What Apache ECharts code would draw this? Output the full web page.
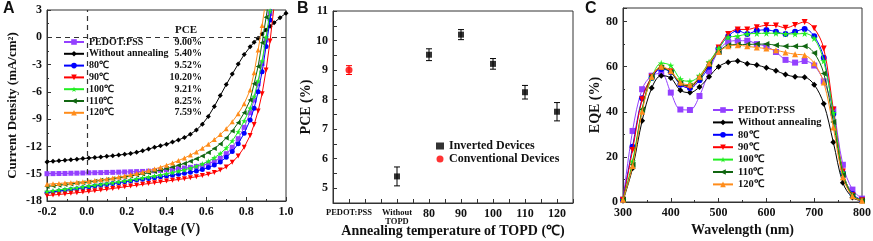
<!DOCTYPE html>
<html>
<head>
<meta charset="utf-8">
<script src="https://cdn.jsdelivr.net/npm/echarts/dist/echarts.min.js"></script>
<style>
html, body { margin: 0; padding: 0; background: #fff; }
#chart { width: 873px; height: 241px; }
</style>
</head>
<body>
<div id="chart"></div>
<script>
// ---- panel A : J-V curves ----
var voltage = [-0.20, -0.17, -0.14, -0.11, -0.08, -0.05, -0.02, 0.01, 0.04, 0.07,
    0.10, 0.13, 0.16, 0.19, 0.22, 0.25, 0.28, 0.31, 0.34, 0.37,
    0.40, 0.43, 0.46, 0.49, 0.52, 0.55, 0.58, 0.61, 0.64, 0.67,
    0.70, 0.73, 0.76, 0.79, 0.82, 0.84, 0.86, 0.88, 0.90, 0.92,
    0.94, 0.97, 1.00];

var jPedot = [-15.00, -14.99, -14.98, -14.97, -14.95, -14.94, -14.92, -14.90, -14.89, -14.88,
    -14.86, -14.85, -14.83, -14.81, -14.79, -14.77, -14.75, -14.72, -14.68, -14.63,
    -14.58, -14.52, -14.45, -14.38, -14.30, -14.20, -14.08, -13.90, -13.65, -13.30,
    -12.80, -12.10, -11.15, -9.90, -8.30, -6.90, -5.10, -2.90, -0.30, 2.60,
    5.80, null, null];
var jNoAnneal = [-13.70, -13.64, -13.58, -13.52, -13.46, -13.40, -13.34, -13.28, -13.22, -13.16,
    -13.09, -13.02, -12.95, -12.87, -12.78, -12.65, -12.48, -12.28, -12.10, -11.93,
    -11.75, -11.52, -11.28, -11.02, -10.65, -10.20, -9.55, -8.70, -7.60, -6.40,
    -5.20, -4.05, -2.95, -1.90, -1.05, -0.55, -0.10, 0.35, 0.80, 1.20,
    1.60, 2.15, 2.65];
var j80 = [-17.10, -17.00, -16.90, -16.82, -16.74, -16.64, -16.55, -16.45, -16.36, -16.27,
    -16.18, -16.08, -15.98, -15.88, -15.79, -15.70, -15.61, -15.52, -15.43, -15.34,
    -15.25, -15.16, -15.06, -14.96, -14.84, -14.70, -14.53, -14.32, -14.05, -13.70,
    -13.20, -12.55, -11.70, -10.55, -9.10, -7.80, -6.00, -3.80, -1.00, 1.90,
    5.00, null, null];
var j90 = [-17.40, -17.34, -17.28, -17.22, -17.15, -17.09, -17.02, -16.95, -16.87, -16.79,
    -16.71, -16.62, -16.53, -16.44, -16.35, -16.26, -16.17, -16.08, -15.99, -15.90,
    -15.81, -15.72, -15.63, -15.54, -15.44, -15.33, -15.20, -15.05, -14.86, -14.60,
    -14.25, -13.75, -13.05, -12.10, -10.80, -9.60, -8.10, -6.20, -3.60, -0.40,
    3.40, null, null];
var j100 = [-16.95, -16.87, -16.78, -16.70, -16.62, -16.53, -16.44, -16.35, -16.26, -16.17,
    -16.08, -15.98, -15.88, -15.78, -15.68, -15.57, -15.46, -15.35, -15.24, -15.12,
    -15.00, -14.87, -14.73, -14.57, -14.39, -14.18, -13.93, -13.62, -13.25, -12.78,
    -12.18, -11.40, -10.40, -9.20, -7.80, -6.50, -4.80, -2.60, 0.00, 2.90,
    6.00, null, null];
var j110 = [-16.40, -16.33, -16.26, -16.19, -16.12, -16.05, -15.98, -15.90, -15.82, -15.73,
    -15.64, -15.55, -15.45, -15.35, -15.25, -15.14, -15.02, -14.89, -14.75, -14.60,
    -14.44, -14.27, -14.08, -13.87, -13.63, -13.36, -13.05, -12.68, -12.24, -11.72,
    -11.08, -10.30, -9.40, -8.30, -6.90, -5.10, -3.20, -0.60, 2.20, 5.00,
    null, null, null];
var j120 = [-16.15, -16.11, -16.07, -16.02, -15.98, -15.93, -15.88, -15.82, -15.75, -15.67,
    -15.58, -15.48, -15.37, -15.25, -15.12, -14.98, -14.83, -14.66, -14.48, -14.28,
    -14.06, -13.82, -13.56, -13.27, -12.95, -12.60, -12.20, -11.75, -11.25, -10.70,
    -10.05, -9.30, -8.40, -7.30, -5.80, -3.90, -1.40, 1.30, 4.30, null,
    null, null, null];

var names = ['PEDOT:PSS', 'Without annealing', '80℃', '90℃', '100℃', '110℃', '120℃'];
var pceText = ['9.00%', '5.40%', '9.52%', '10.20%', '9.21%', '8.25%', '7.59%'];

// ---- panel B : PCE vs annealing temperature ----
var bTickText = { 55: 'PEDOT:PSS', 70: 'Without\nTOPD', 80: '80', 90: '90', 100: '100', 110: '110', 120: '120' };
var convX = [55], convPce = [9.00], convErr = [0.15];
var invX = [70, 80, 90, 100, 110, 120];
var invPce = [5.40, 9.52, 10.20, 9.21, 8.25, 7.59];
var invErr = [0.32, 0.20, 0.17, 0.18, 0.23, 0.31];

// ---- panel C : EQE ----
var wavelength = [300, 320, 340, 360, 380, 400, 420, 440, 460, 480, 500, 520, 540,
    560, 580, 600, 620, 640, 660, 680, 700, 720, 740, 760, 780, 800];
var eqePedot = [1, 31.5, 50, 56, 57, 48.5, 41, 40.8, 47, 58, 67, 71, 71.5, 71.5, 70, 69, 66.5, 63, 61.8, 62.5, 60.5, 53.5, 41, 16.5, 5.5, 1.5];
var eqeNoAnneal = [0.5, 15, 36, 50.5, 56, 55, 49.5, 48.5, 51, 55.5, 60, 62, 62.5, 61.3, 60.7, 59.5, 58.2, 56.5, 55.5, 55.3, 52, 43.5, 26.5, 8.5, 2, 0.5];
var eqe80 = [1, 24.5, 46, 55, 59, 57.5, 52, 50.5, 54, 60, 68, 73.5, 76, 74.5, 76, 76.3, 75.5, 74.5, 75.5, 76.7, 73.5, 64, 39, 13, 3.5, 1];
var eqe90 = [1, 23, 45.5, 55.5, 59.5, 58, 52.5, 51, 55, 61, 68.5, 74.5, 76.5, 76.5, 77.5, 78.3, 78.2, 77.2, 78.5, 79.8, 77, 68, 41, 13.5, 3, 0.8];
var eqe100 = [1, 18, 41, 55, 61.5, 60.5, 54.5, 53.5, 56, 62, 68, 73, 73.5, 74.5, 74.7, 74.8, 74.8, 74.5, 74.5, 74.7, 72.5, 62.5, 39.5, 13, 3, 0.8];
var eqe110 = [1, 16.5, 41, 56, 59.5, 57.5, 52.5, 51.5, 55, 61, 66.5, 69.5, 69.8, 69.8, 70, 70, 69.5, 69, 69, 69, 66, 57, 35.5, 12, 2.8, 0.6];
var eqe120 = [1, 16, 40, 55.5, 60, 58, 53, 52, 55.5, 61.5, 66.5, 69, 69.5, 69, 68.5, 68, 67.3, 66.3, 65.5, 65.1, 61.5, 53, 33, 11, 2.5, 0.5];

// styles
var SERIF = 'Liberation Serif';
var STAR = 'path://M50,0L61.2,34.5L97.6,34.5L68.2,55.9L79.4,90.5L50,69.1L20.6,90.5L31.8,55.9L2.4,34.5L38.8,34.5Z';
var colors = ['#9440ff', '#000000', '#0000ff', '#ff0000', '#22ee22', '#116611', '#ff8c1a'];
var symbols = ['rect', 'diamond', 'circle', 'triangle', STAR, 'triangle', 'triangle'];
var rotations = [0, 0, 0, 180, 0, 90, 0];

var jvData = [jPedot, jNoAnneal, j80, j90, j100, j110, j120];
var eqeData = [eqePedot, eqeNoAnneal, eqe80, eqe90, eqe100, eqe110, eqe120];

var dom = document.getElementById('chart');
var chart = echarts.init(dom, null, { renderer: 'canvas' });

var labelFont = { color: '#111', fontFamily: SERIF, fontWeight: 'bold', fontSize: 12 };
var nameFont = { color: '#111', fontFamily: SERIF, fontWeight: 'bold', fontSize: 14 };

function valueAxis(grid, o) {
    var ax = {
        gridIndex: grid, type: 'value',
        axisLine: { show: true, onZero: false, lineStyle: { color: '#333', width: 1 } },
        axisTick: { show: true, inside: true, length: 4, lineStyle: { color: '#333' } },
        minorTick: { show: true, splitNumber: 2, length: 2, lineStyle: { color: '#333' } },
        splitLine: { show: false },
        axisLabel: Object.assign({ margin: 5 }, labelFont),
        nameLocation: 'middle',
        nameMoveOverlap: false,
        nameTextStyle: nameFont
    };
    for (var k in o) {
        if (typeof o[k] === 'object' && ax[k] && !Array.isArray(o[k])) ax[k] = Object.assign({}, ax[k], o[k]);
        else ax[k] = o[k];
    }
    return ax;
}

var series = [];

// A
jvData.forEach(function (vals, i) {
    var pts = [];
    voltage.forEach(function (v, k) { if (vals[k] !== null) pts.push([v, vals[k]]); });
    var s = {
        name: names[i], type: 'line', xAxisIndex: 0, yAxisIndex: 0,
        data: pts, symbol: symbols[i], symbolSize: i === 4 ? 6 : 5, symbolRotate: rotations[i],
        itemStyle: { color: colors[i] }, lineStyle: { color: colors[i], width: 1 },
        clip: true, z: 3 + i
    };
    if (i === 1) {
        s.markLine = {
            silent: true, symbol: 'none', label: { show: false },
            lineStyle: { type: [5, 4], color: '#333', width: 1.2 },
            data: [{ yAxis: 0 }, { xAxis: 0 }]
        };
    }
    series.push(s);
});

// B error bars
function errorBars(xs, ys, es, color) {
    return {
        type: 'custom', xAxisIndex: 1, yAxisIndex: 1, z: 2, silent: true,
        data: xs.map(function (x, i) { return [x, ys[i], es[i]]; }),
        renderItem: function (params, api) {
            var x = api.value(0), y = api.value(1), e = api.value(2);
            var hi = api.coord([x, y + e]), lo = api.coord([x, y - e]);
            var w = 3;
            var st = { stroke: color, lineWidth: 1 };
            return {
                type: 'group', children: [
                    { type: 'line', shape: { x1: hi[0], y1: hi[1], x2: lo[0], y2: lo[1] }, style: st },
                    { type: 'line', shape: { x1: hi[0] - w, y1: hi[1], x2: hi[0] + w, y2: hi[1] }, style: st },
                    { type: 'line', shape: { x1: lo[0] - w, y1: lo[1], x2: lo[0] + w, y2: lo[1] }, style: st }
                ]
            };
        }
    };
}
series.push(errorBars(invX, invPce, invErr, '#000'));
series.push(errorBars(convX, convPce, convErr, '#ff0000'));
series.push({
    name: 'Inverted Devices', type: 'scatter', xAxisIndex: 1, yAxisIndex: 1, z: 4,
    symbol: 'rect', symbolSize: 6, itemStyle: { color: '#000' },
    data: invX.map(function (x, i) { return [x, invPce[i]]; })
});
series.push({
    name: 'Conventional Devices', type: 'scatter', xAxisIndex: 1, yAxisIndex: 1, z: 4,
    symbol: 'circle', symbolSize: 7, itemStyle: { color: '#ff0000' },
    data: convX.map(function (x, i) { return [x, convPce[i]]; })
});

// C
eqeData.forEach(function (vals, i) {
    series.push({
        name: names[i], type: 'line', xAxisIndex: 2, yAxisIndex: 2,
        data: wavelength.map(function (w, k) { return [w, vals[k]]; }),
        smooth: 0.35, symbol: symbols[i], symbolSize: i === 4 ? 7 : 6, symbolRotate: rotations[i],
        itemStyle: { color: colors[i] }, lineStyle: { color: colors[i], width: 1 }, z: 3 + i
    });
});

var legendText = { fontFamily: SERIF, fontWeight: 'bold', fontSize: 10, color: '#111' };

var option = {
    animation: false,
    backgroundColor: '#fff',
    grid: [
        { left: 47, top: 10, width: 239, height: 191, show: true, borderColor: '#333', borderWidth: 1, outerBoundsMode: 'none' },
        { left: 333, top: 11, width: 240, height: 192, show: true, borderColor: '#333', borderWidth: 1, outerBoundsMode: 'none' },
        { left: 623, top: 8, width: 239, height: 194, show: true, borderColor: '#333', borderWidth: 1, outerBoundsMode: 'none' }
    ],
    xAxis: [
        valueAxis(0, { min: -0.2, max: 1.0, interval: 0.2, name: 'Voltage (V)', nameGap: 21,
            axisLabel: { formatter: function (v) { return v.toFixed(1); } } }),
        valueAxis(1, { min: 50, max: 125, interval: 5, name: 'Annealing temperature of TOPD (℃)', nameGap: 21,
            minorTick: { show: false },
            axisLabel: {
                formatter: function (v) {
                    var t = bTickText[v];
                    if (!t) return '';
                    if (v < 80) return t.split('\n').map(function (p) { return '{s|' + p + '}'; }).join('\n');
                    return t;
                },
                rich: { s: { fontFamily: SERIF, fontWeight: 'bold', fontSize: 8.5, lineHeight: 9, color: '#111' } }
            } }),
        valueAxis(2, { min: 300, max: 800, interval: 100, name: 'Wavelength (nm)', nameGap: 21 })
    ],
    yAxis: [
        valueAxis(0, { min: -18, max: 3, interval: 3, name: 'Current Density (mA/cm²)', nameGap: 28,
            nameTextStyle: Object.assign({}, nameFont, { fontSize: 13 }) }),
        valueAxis(1, { min: 4.5, max: 11, interval: 0.5, name: 'PCE (%)', nameGap: 20, minorTick: { show: false },
            axisLabel: { formatter: function (v) { return Math.abs(v - Math.round(v)) < 1e-6 ? String(Math.round(v)) : ''; } } }),
        valueAxis(2, { min: 0, max: 86, interval: 20, name: 'EQE (%)', nameGap: 21,
            axisLabel: { formatter: function (v) { return v % 20 === 0 ? String(v) : ''; } } })
    ],
    legend: [
        {
            data: names, orient: 'vertical', left: 63, top: 36.5, padding: 0,
            itemWidth: 20, itemHeight: 7, itemGap: 0.8, selectedMode: false,
            formatter: function (n) { return '{n|' + n + '}{p|' + pceText[names.indexOf(n)] + '}'; },
            textStyle: Object.assign({ lineHeight: 11 }, legendText, {
                rich: {
                    n: Object.assign({ width: 83 }, legendText),
                    p: Object.assign({ width: 30, align: 'right' }, legendText)
                }
            })
        },
        {
            data: ['Inverted Devices', 'Conventional Devices'], orient: 'vertical', left: 436, top: 140, padding: 0,
            itemWidth: 8, itemHeight: 7, itemGap: 1, selectedMode: false,
            textStyle: { fontFamily: SERIF, fontWeight: 'bold', fontSize: 12, lineHeight: 12, color: '#111' }
        },
        {
            data: names, orient: 'vertical', left: 712, top: 104, padding: 0,
            itemWidth: 20, itemHeight: 7, itemGap: 0.4, selectedMode: false,
            textStyle: Object.assign({ lineHeight: 12 }, legendText, { fontSize: 10.5 })
        }
    ],
    graphic: [
        { type: 'text', left: 3, top: 1, style: { text: 'A', font: 'bold 16px "Liberation Sans"', fill: '#111' } },
        { type: 'text', left: 297, top: 1, style: { text: 'B', font: 'bold 16px "Liberation Sans"', fill: '#111' } },
        { type: 'text', left: 585, top: 1, style: { text: 'C', font: 'bold 16px "Liberation Sans"', fill: '#111' } },
        { type: 'text', left: 175, top: 25, style: { text: 'PCE', font: 'bold 11px "Liberation Serif"', fill: '#111' } }
    ],
    series: series
};

chart.setOption(option);
window.addEventListener('resize', function () { chart.resize(); });
</script>
</body>
</html>
